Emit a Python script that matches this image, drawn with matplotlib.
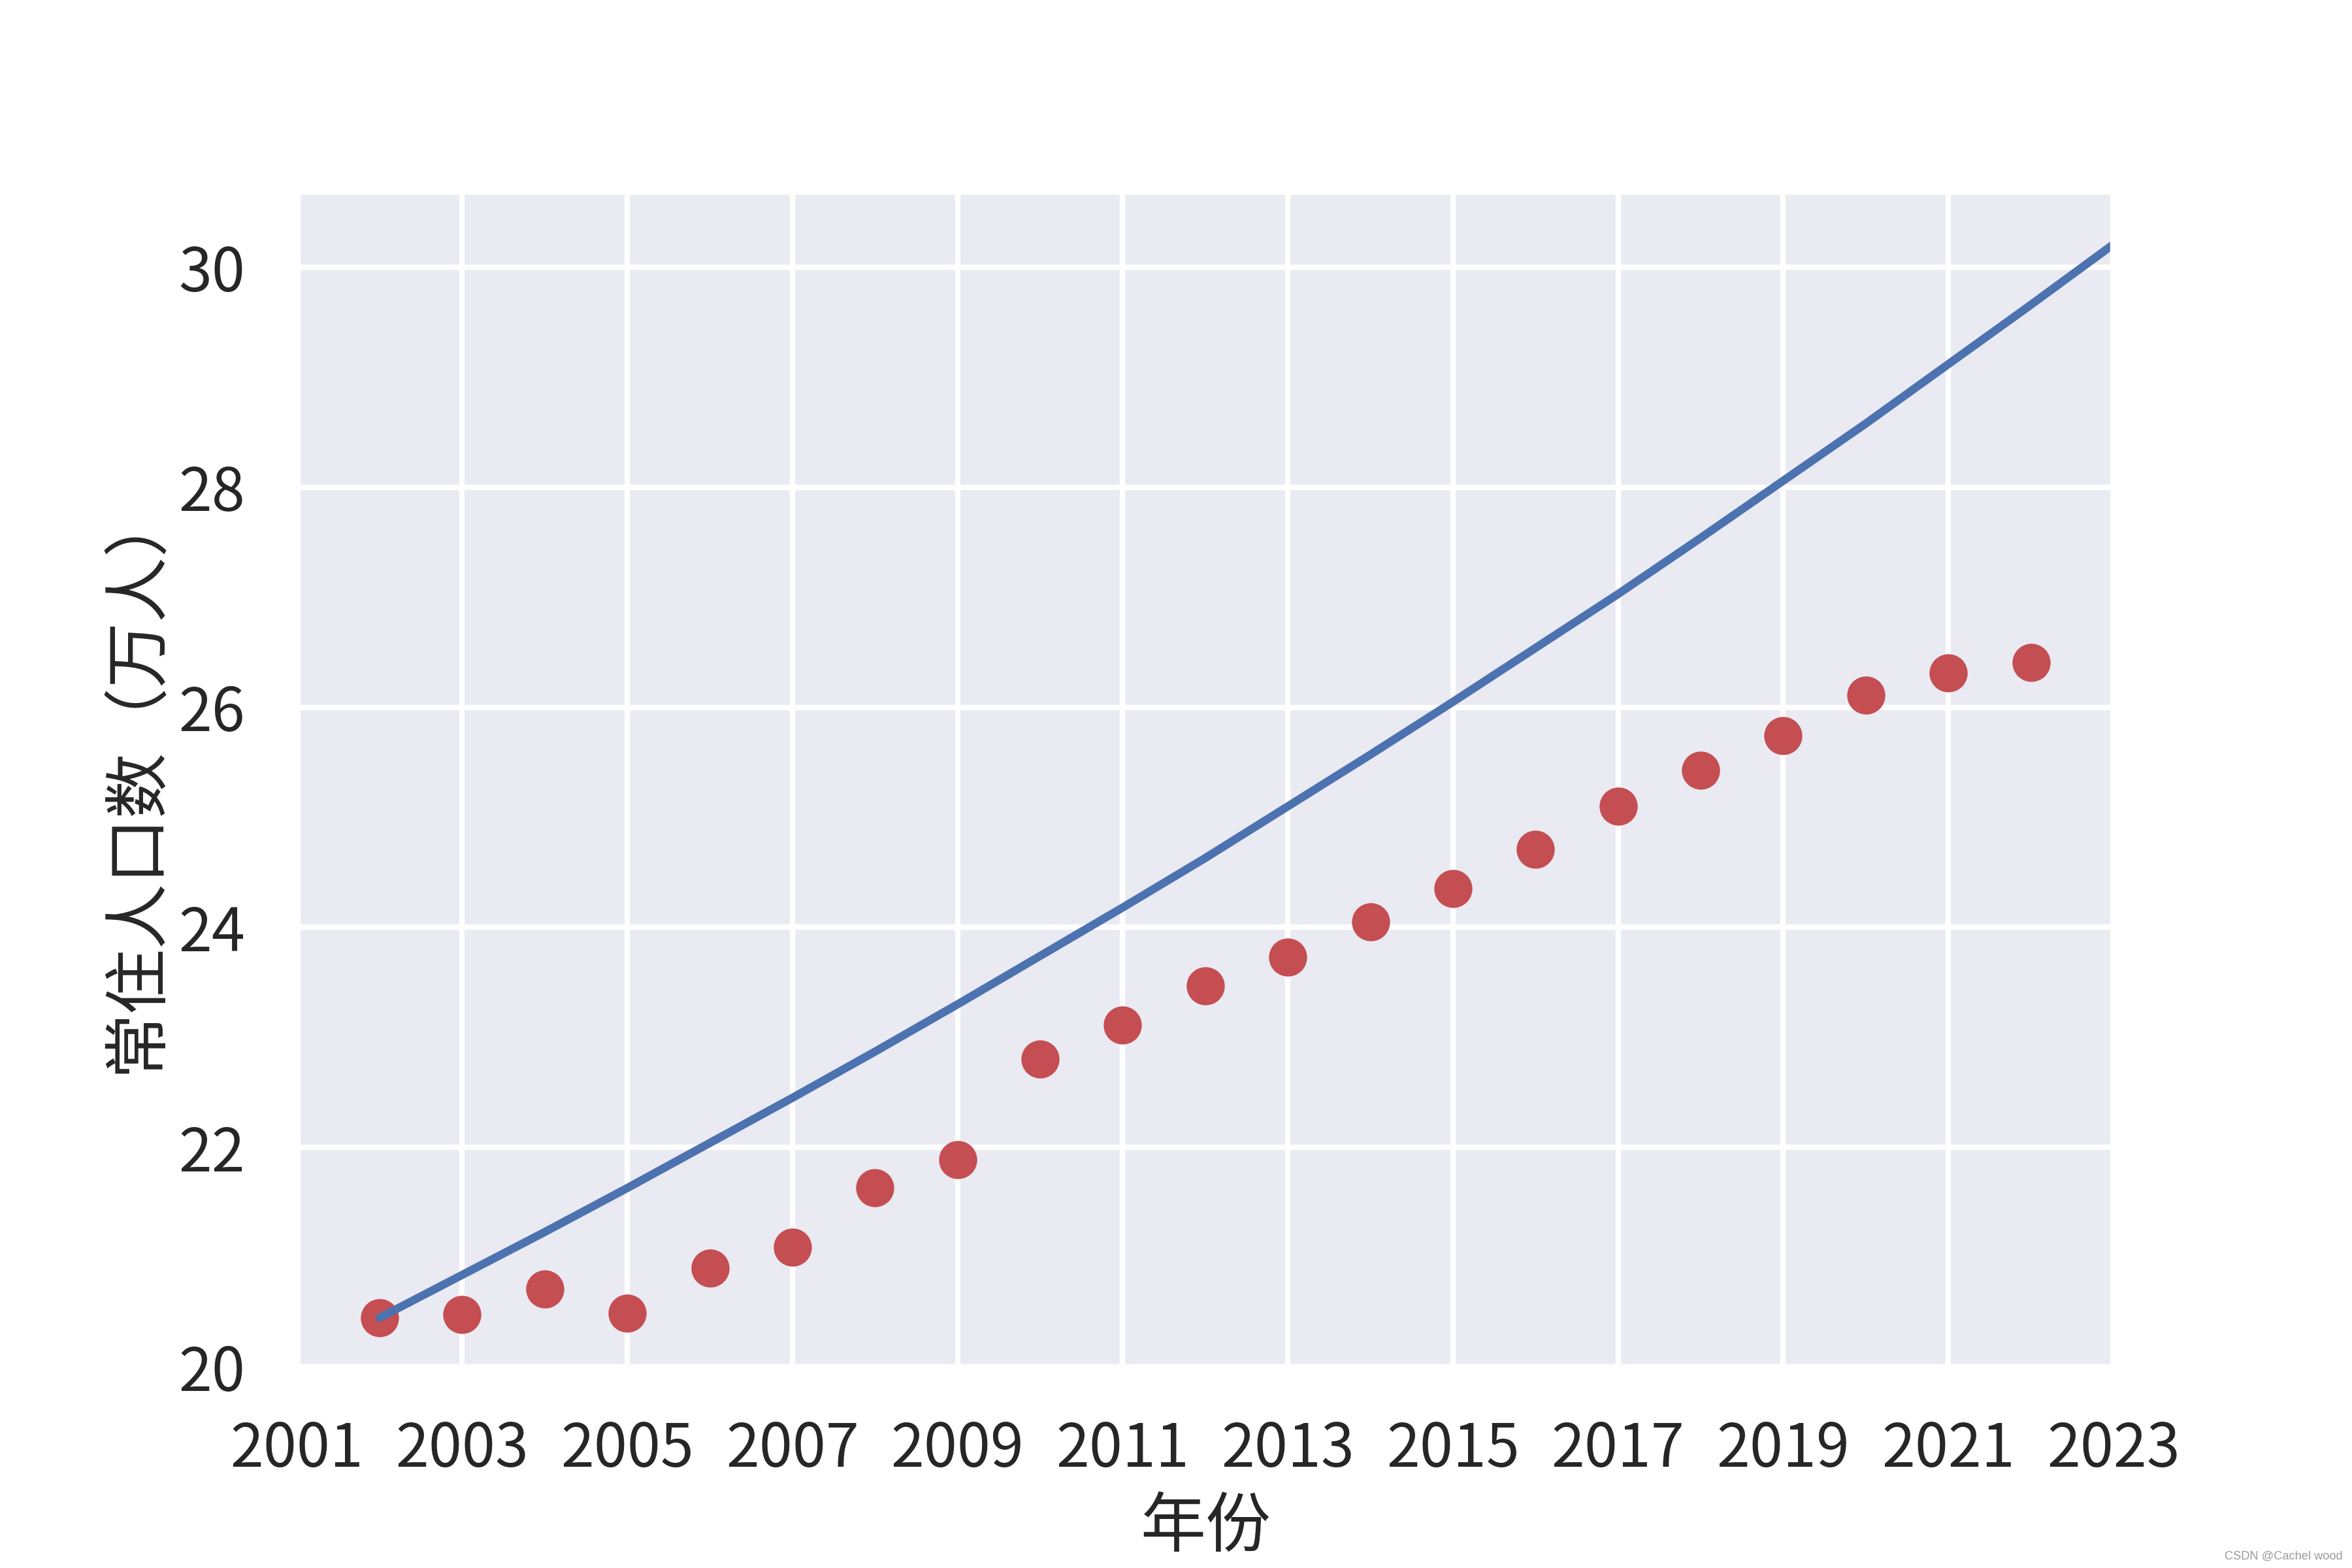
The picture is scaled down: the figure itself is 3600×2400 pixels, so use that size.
import matplotlib
matplotlib.use('Agg')
import matplotlib.pyplot as plt
import seaborn as sns

# observed resident population (10k people), 2002-2022
years = [2002, 2003, 2004, 2005, 2006, 2007, 2008, 2009, 2010, 2011, 2012,
         2013, 2014, 2015, 2016, 2017, 2018, 2019, 2020, 2021, 2022]
population = [20.45, 20.48, 20.71, 20.49, 20.90, 21.09, 21.63, 21.89, 22.80, 23.11, 23.47,
              23.73, 24.05, 24.35, 24.71, 25.10, 25.43, 25.74, 26.11, 26.31, 26.41]

# fitted / predicted curve, 2002-2023
fit_years = [2002, 2003, 2004, 2005, 2006, 2007, 2008, 2009, 2010, 2011, 2012,
             2013, 2014, 2015, 2016, 2017, 2018, 2019, 2020, 2021, 2022, 2023]
fit_values = [20.45, 20.84, 21.23, 21.63, 22.04, 22.45, 22.87, 23.30, 23.74, 24.18, 24.63,
              25.10, 25.57, 26.05, 26.54, 27.03, 27.54, 28.06, 28.58, 29.12, 29.66, 30.21]

x_ticks = list(range(2001, 2024, 2))

sns.set_theme(style='darkgrid')
plt.rcParams['font.family'] = ['Noto Sans CJK SC', 'DejaVu Sans']
plt.rcParams['axes.unicode_minus'] = False

fig = plt.figure(figsize=(6, 4), dpi=600)
# left, bottom, width, height
ax = fig.add_axes([0.1263, 0.128, 0.7723, 0.7499])

# red dots first, then the blue line on top
ax.plot(years, population, 'o', color='#C44E52')
ax.plot(fit_years, fit_values, '-', color='#4C72B0')

ax.set_xlim(2001, 2023)
ax.set_ylim(20, 30.69)
ax.set_xticks(x_ticks)
ax.set_xlabel('年份', labelpad=2.5)
ax.set_ylabel('常住人口数（万人）', labelpad=1.5)

# site watermark in the corner
fig.text(0.996, 0.004, 'CSDN @Cachel wood', fontsize=2.2, color='#9a9a9a',
         ha='right', va='bottom', family=['Liberation Sans', 'DejaVu Sans'])

fig.savefig('out.png', dpi=600)
